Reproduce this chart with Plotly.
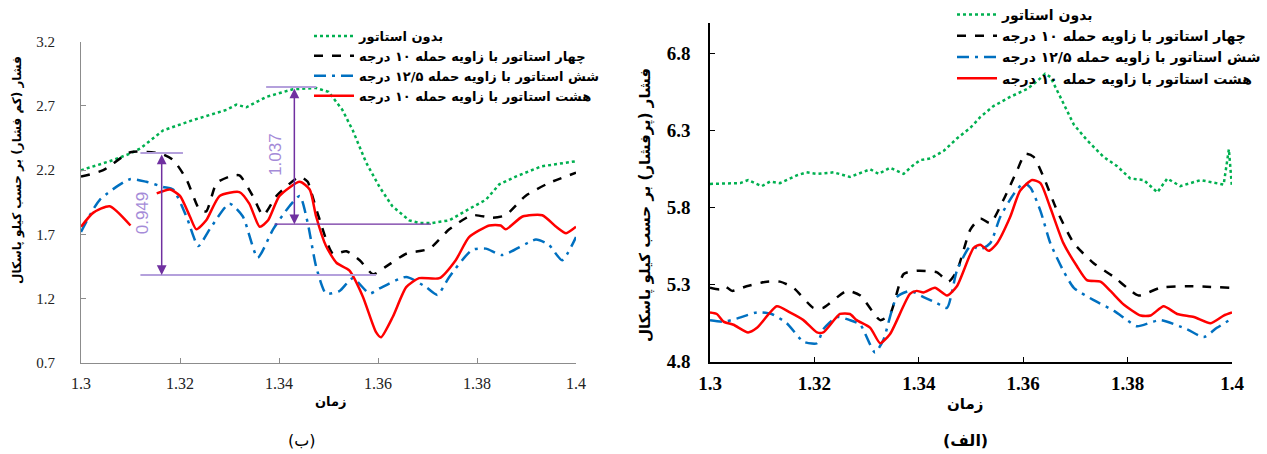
import plotly.graph_objects as go

# ---------------- Left panel (ب) : low pressure ----------------
L_green_x = [1.300, 1.3058, 1.310, 1.312, 1.3166, 1.3226, 1.3294, 1.3314, 1.3334, 1.3374, 1.3428, 1.3475,
             1.350, 1.3528, 1.3549, 1.3576, 1.3603, 1.3629, 1.3663, 1.3683, 1.371, 1.3744, 1.378, 1.3818,
             1.3845, 1.3878, 1.393, 1.400]
L_green_y = [2.20, 2.27, 2.33, 2.37, 2.51, 2.59, 2.67, 2.71, 2.69, 2.77, 2.83, 2.84,
             2.81, 2.67, 2.51, 2.26, 2.07, 1.92, 1.81, 1.79, 1.79, 1.81, 1.89, 1.97,
             2.09, 2.15, 2.23, 2.27]

L_black_x = [1.300, 1.3045, 1.310, 1.316, 1.3186, 1.3213, 1.324, 1.3253, 1.3274, 1.330, 1.332, 1.3347,
             1.3368, 1.3395, 1.3442, 1.3458, 1.3462, 1.348, 1.3509, 1.3536, 1.3563, 1.359, 1.3616,
             1.3657, 1.3704, 1.3744, 1.379, 1.3831, 1.3858, 1.3898, 1.3945, 1.400]
L_black_y = [2.15, 2.20, 2.34, 2.33, 2.28, 2.13, 1.89, 1.88, 2.10, 2.15, 2.16, 2.00,
             1.85, 2.00, 2.15, 2.11, 2.07, 1.84, 1.55, 1.57, 1.50, 1.39, 1.45,
             1.55, 1.59, 1.74, 1.85, 1.83, 1.85, 2.00, 2.10, 2.18]

L_blue_x = [1.300, 1.3038, 1.3099, 1.3132, 1.3166, 1.3186, 1.3213, 1.3237, 1.326, 1.330, 1.3327, 1.3357,
            1.3388, 1.3421, 1.3442, 1.3458, 1.3475, 1.3495, 1.3522, 1.3549, 1.3583, 1.3603, 1.3657,
            1.3697, 1.372, 1.3744, 1.379, 1.3818, 1.3851, 1.3919, 1.3945, 1.3972, 1.400]
L_blue_y = [1.72, 1.97, 2.13, 2.11, 2.07, 2.05, 1.84, 1.61, 1.74, 1.94, 1.84, 1.52,
            1.74, 1.92, 2.00, 1.79, 1.45, 1.24, 1.26, 1.36, 1.24, 1.28, 1.37,
            1.29, 1.23, 1.37, 1.58, 1.59, 1.54, 1.66, 1.62, 1.50, 1.68]

L_red_x = [1.300, 1.3025, 1.3058, 1.310, 1.3126, 1.3153, 1.318, 1.320, 1.322, 1.3233, 1.3253, 1.328,
           1.332, 1.334, 1.3361, 1.3378, 1.3401, 1.3442, 1.3462, 1.3475, 1.3495, 1.3516, 1.3542,
           1.3569, 1.3596, 1.3606, 1.363, 1.3657, 1.3683, 1.3724, 1.3757, 1.3784, 1.3825, 1.3848,
           1.3858, 1.3892, 1.3932, 1.396, 1.398, 1.400]
L_red_y = [1.76, 1.87, 1.92, 1.77, None, 2.02, 2.05, 2.00, 1.84, 1.74, 1.81, 2.00,
           2.03, 1.94, 1.76, 1.81, 2.00, 2.11, 2.05, 1.84, 1.61, 1.48, 1.42,
           1.22, 0.94, 0.90, 1.06, 1.29, 1.36, 1.36, 1.50, 1.68, 1.77, 1.77,
           1.74, 1.84, 1.85, 1.76, 1.71, 1.76]

# ---------------- Right panel (الف) : high pressure ----------------
R_green_x = [1.300, 1.3058, 1.3073, 1.3099, 1.3115, 1.3134, 1.3166, 1.3185, 1.3205, 1.3237, 1.3268,
             1.3307, 1.3323, 1.3345, 1.3371, 1.3387, 1.3403, 1.3422, 1.3448, 1.3473, 1.3499, 1.3518,
             1.3543, 1.3575, 1.3607, 1.3626, 1.3642, 1.3652, 1.3671, 1.3697, 1.3722, 1.3754, 1.378,
             1.3805, 1.3831, 1.3857, 1.3876, 1.3901, 1.394, 1.3984, 1.3994, 1.400]
R_green_y = [5.955, 5.96, 5.98, 5.94, 5.97, 5.96, 6.01, 6.03, 6.02, 6.03, 6.00,
             6.05, 6.02, 6.06, 6.02, 6.07, 6.11, 6.12, 6.17, 6.25, 6.32, 6.39,
             6.46, 6.52, 6.57, 6.62, 6.67, 6.65, 6.52, 6.34, 6.24, 6.13, 6.07,
             5.99, 5.98, 5.90, 5.99, 5.94, 5.98, 5.95, 6.18, 5.93]

R_black_x = [1.300, 1.3019, 1.3029, 1.3042, 1.307, 1.3109, 1.3134, 1.316, 1.3198, 1.3217, 1.3262,
             1.3288, 1.3326, 1.3345, 1.3371, 1.3396, 1.3435, 1.3457, 1.3473, 1.3499, 1.3518, 1.3537,
             1.3562, 1.3588, 1.3604, 1.362, 1.3639, 1.3665, 1.3697, 1.3735, 1.3774, 1.3799, 1.3821,
             1.3863, 1.3914, 1.400]
R_black_y = [5.28, 5.27, 5.29, 5.26, 5.29, 5.32, 5.32, 5.28, 5.15, 5.15, 5.26,
             5.23, 5.07, 5.11, 5.37, 5.39, 5.38, 5.32, 5.39, 5.66, 5.73, 5.70,
             5.85, 6.04, 6.15, 6.13, 6.00, 5.78, 5.57, 5.44, 5.35, 5.28, 5.23,
             5.28, 5.29, 5.28]

R_blue_x = [1.300, 1.3026, 1.3051, 1.309, 1.3118, 1.3147, 1.3179, 1.3205, 1.3217, 1.3243, 1.3268,
            1.3288, 1.3316, 1.3332, 1.3358, 1.3383, 1.3409, 1.3435, 1.3454, 1.3473, 1.3499, 1.3518,
            1.3537, 1.3556, 1.3582, 1.3601, 1.3614, 1.3633, 1.3652, 1.3677, 1.3697, 1.3735, 1.3774,
            1.3799, 1.3818, 1.3863, 1.3914, 1.3946, 1.3971, 1.400]
R_blue_y = [5.07, 5.06, 5.08, 5.12, 5.11, 5.05, 4.93, 4.92, 5.01, 5.09, 5.07,
            5.04, 4.86, 4.94, 5.22, 5.26, 5.22, 5.18, 5.15, 5.39, 5.55, 5.53,
            5.57, 5.74, 5.89, 5.96, 5.93, 5.78, 5.57, 5.39, 5.28, 5.20, 5.13,
            5.07, 5.03, 5.07, 5.01, 4.96, 5.02, 5.08]

R_red_x = [1.300, 1.3013, 1.3026, 1.3045, 1.3073, 1.309, 1.3128, 1.3153, 1.3179, 1.3205, 1.3217,
           1.3249, 1.3268, 1.3281, 1.3307, 1.3326, 1.3345, 1.3383, 1.3396, 1.3409, 1.3431, 1.3454,
           1.3473, 1.3505, 1.3518, 1.3534, 1.355, 1.3575, 1.3594, 1.3617, 1.3633, 1.3652, 1.3677,
           1.3703, 1.3722, 1.3748, 1.3767, 1.3793, 1.3825, 1.3844, 1.3869, 1.3895, 1.3927, 1.3959,
           1.3984, 1.400]
R_red_y = [5.12, 5.11, 5.06, 5.04, 4.99, 5.02, 5.16, 5.12, 5.07, 4.99, 4.99,
           5.11, 5.11, 5.07, 5.02, 4.92, 4.98, 5.24, 5.26, 5.25, 5.28, 5.23,
           5.29, 5.54, 5.56, 5.52, 5.57, 5.74, 5.91, 5.98, 5.96, 5.80, 5.57,
           5.42, 5.33, 5.32, 5.26, 5.17, 5.10, 5.10, 5.16, 5.11, 5.09, 5.05,
           5.10, 5.12]

names = ["بدون استاتور",
         "چهار استاتور با زاویه حمله ۱۰ درجه",
         "شش استاتور با زاویه حمله ۱۲/۵ درجه",
         "هشت استاتور با زاویه حمله ۱۰ درجه"]

x_ticks = [1.3, 1.32, 1.34, 1.36, 1.38, 1.4]

GREEN, BLACK, BLUE, RED = "#00B050", "#000000", "#0070C0", "#FF0000"
PURPLE, LAVENDER = "#7030A0", "#B4A0DC"
FA = "DejaVu Sans"
SERIF = "Liberation Serif"

fig = go.Figure()

styles = [(GREEN, "dot"), (BLACK, "dash"), (BLUE, "12px,6px,3px,6px"), (RED, "solid")]

left = [(L_green_x, L_green_y), (L_black_x, L_black_y), (L_blue_x, L_blue_y), (L_red_x, L_red_y)]
right = [(R_green_x, R_green_y), (R_black_x, R_black_y), (R_blue_x, R_blue_y), (R_red_x, R_red_y)]

for (xs, ys), name, (c, d) in zip(left, names, styles):
    fig.add_trace(go.Scatter(x=xs, y=ys, name=name, mode="lines",
                             line=dict(color=c, dash=d, width=2.5, shape="linear" if c == GREEN else "spline", smoothing=0.6),
                             xaxis="x", yaxis="y", legend="legend"))
for (xs, ys), name, (c, d) in zip(right, names, styles):
    fig.add_trace(go.Scatter(x=xs, y=ys, name=name, mode="lines",
                             line=dict(color=c, dash=d, width=2.5, shape="linear" if c == GREEN else "spline", smoothing=0.6),
                             xaxis="x2", yaxis="y2", legend="legend2"))

W, H = 1267, 454

def dom_x(a, b):
    return [a / W, b / W]

def dom_y(top, bottom):
    return [(H - bottom) / H, (H - top) / H]

axis_common = dict(showgrid=False, zeroline=False, showline=True, ticks="inside", mirror=False, automargin=False)

fig.update_layout(
    width=W, height=H, margin=dict(l=0, r=0, t=0, b=0, autoexpand=False),
    paper_bgcolor="white", plot_bgcolor="white",
    xaxis=dict(domain=dom_x(81, 576), range=[1.3, 1.4], tickvals=x_ticks, anchor="y",
               linecolor="#8c8c8c", linewidth=1, tickcolor="#8c8c8c", ticklen=5,
               tickfont=dict(family=SERIF, size=16, color="#222"), ticklabelstandoff=6, **axis_common),
    yaxis=dict(domain=dom_y(41.7, 363), range=[0.7, 3.2], tick0=0.7, dtick=0.5, anchor="x",
               linecolor="#8c8c8c", linewidth=1, tickcolor="#8c8c8c", ticklen=5,
               tickfont=dict(family=SERIF, size=15, color="#222"), ticklabelstandoff=22, **axis_common),
    xaxis2=dict(domain=dom_x(710, 1232), range=[1.3, 1.4], tickvals=x_ticks, anchor="y2",
                linecolor="#000", linewidth=1.5, tickcolor="#000", ticklen=5,
                tickfont=dict(family=SERIF, size=19, color="#000", weight="bold"), ticklabelstandoff=4, **axis_common),
    yaxis2=dict(domain=dom_y(23, 361.7), range=[4.8, 7.0], tick0=4.8, dtick=0.5, anchor="x2",
                linecolor="#000", linewidth=1.5, tickcolor="#000", ticklen=5,
                tickfont=dict(family=SERIF, size=19, color="#000", weight="bold"), ticklabelstandoff=14, **axis_common),
    legend=dict(x=309 / W, y=1 - 21 / H, xanchor="left", yanchor="top", bgcolor="rgba(0,0,0,0)",
                font=dict(family=FA, size=13, color="#000", weight="bold"), tracegroupgap=0, itemwidth=40),
    legend2=dict(x=952 / W, y=1 + 1 / H, xanchor="left", yanchor="top", bgcolor="rgba(0,0,0,0)",
                 font=dict(family=FA, size=14, color="#000", weight="bold"), tracegroupgap=0, itemwidth=40),
    showlegend=True,
)

# measurement lines and arrows on the left panel
top1, bot1, xa1 = 2.334, 1.385, 1.3163
top2, bot2, xa2 = 2.847, 1.78, 1.3431
fig.add_shape(type="line", xref="x", yref="y", x0=1.312, x1=1.3206, y0=top1, y1=top1, line=dict(color=LAVENDER, width=2))
fig.add_shape(type="line", xref="x", yref="y", x0=1.312, x1=1.3596, y0=bot1, y1=bot1, line=dict(color=LAVENDER, width=2))
fig.add_shape(type="line", xref="x", yref="y", x0=1.3374, x1=1.3475, y0=top2, y1=top2, line=dict(color=LAVENDER, width=2))
fig.add_shape(type="line", xref="x", yref="y", x0=1.3391, x1=1.3707, y0=bot2, y1=bot2, line=dict(color=PURPLE, width=1.2))
for xa, t, b in [(xa1, top1, bot1), (xa2, top2, bot2)]:
    fig.add_annotation(x=xa, y=b, ax=xa, ay=t, xref="x", yref="y", axref="x", ayref="y", text="",
                       showarrow=True, arrowhead=2, arrowside="end+start", arrowsize=1.3,
                       arrowwidth=1.5, arrowcolor=PURPLE)
fig.add_annotation(x=1.3126, y=1.868, xref="x", yref="y", text="0.949", textangle=-90, showarrow=False,
                   xanchor="center", yanchor="middle",
                   font=dict(family="Liberation Sans", size=17, color="#A58BD8"))
fig.add_annotation(x=1.3394, y=2.32, xref="x", yref="y", text="1.037", textangle=-90, showarrow=False,
                   xanchor="center", yanchor="middle",
                   font=dict(family="Liberation Sans", size=17, color="#A58BD8"))

# axis titles and panel labels
def label(x, y, text, size, bold=True, angle=0):
    fig.add_annotation(x=x / W, y=1 - y / H, xref="paper", yref="paper", showarrow=False, textangle=angle,
                       xanchor="center", yanchor="middle", text=text,
                       font=dict(family=FA, size=size, color="#000", weight="bold" if bold else "normal"))

label(17, 170, "فشار (کم فشار) بر حسب کیلو پاسکال", 12, angle=-90)
label(645, 205, "فشار (پرفشار) بر حسب کیلو پاسکال", 15, angle=-90)
label(331, 401, "زمان", 13)
label(965, 404, "زمان", 15)
label(302, 440, "(ب)", 16, bold=False)
label(965, 440, "(الف)", 16)

fig.write_html("out.html")
